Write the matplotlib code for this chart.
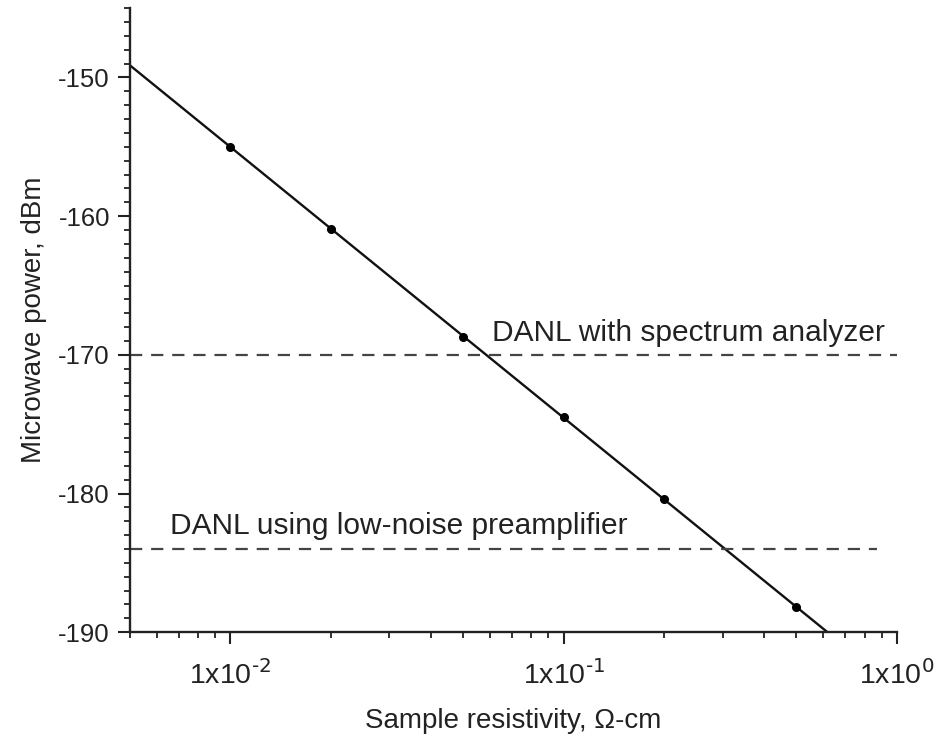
import numpy as np
import matplotlib
matplotlib.use('Agg')
import matplotlib.pyplot as plt
from matplotlib.ticker import FixedLocator, MultipleLocator, LogLocator, NullFormatter

plt.rcParams['font.family'] = ['Liberation Sans', 'DejaVu Sans']
plt.rcParams['mathtext.default'] = 'regular'
plt.rcParams['axes.unicode_minus'] = False

# measured points (resistivity, power)
resistivity = [0.01, 0.02, 0.05, 0.1, 0.2, 0.5]
power = [-155.0, -160.9, -168.7, -174.5, -180.4, -188.2]

# noise floors
danl_sa = -170.0
danl_lna = -184.0
danl_sa_xmax = 1.0
danl_lna_xmax = 0.87

xlim = (0.005, 1.0)
ylim = (-190, -145)
xticks = [1e-2, 1e-1, 1e0]
xticklabels = [r'1x10$^{\text{-2}}$', r'1x10$^{\text{-1}}$', r'1x10$^{\text{0}}$']
yticks = [-190, -180, -170, -160, -150]

ink = '#222222'

fig = plt.figure(figsize=(9.43, 7.42), dpi=100)
ax = fig.add_axes([0.138, 0.148, 0.813, 0.841])

# fitted line across the whole range
k, b = np.polyfit(np.log10(resistivity), power, 1)
xs = np.logspace(np.log10(xlim[0]), np.log10(xlim[1]), 200)
ax.plot(xs, k * np.log10(xs) + b, color='#111111', lw=1.7)
ax.plot(resistivity, power, 'o', color='black', ms=5.5)

ax.plot([xlim[0], danl_sa_xmax], [danl_sa, danl_sa], color='#444444',
        lw=1.6, dashes=(5.5, 4), clip_on=False)
ax.plot([xlim[0], danl_lna_xmax], [danl_lna, danl_lna], color='#444444',
        lw=1.6, dashes=(5.5, 4), clip_on=False)

ax.text(0.061, -169.0, 'DANL with spectrum analyzer', fontsize=21.5,
        color=ink, va='baseline', ha='left')
ax.text(0.0066, -182.9, 'DANL using low-noise preamplifier', fontsize=21.5,
        color=ink, va='baseline', ha='left')

ax.set_xscale('log')
ax.set_xlim(*xlim)
ax.set_ylim(*ylim)
ax.xaxis.set_major_locator(FixedLocator(xticks))
ax.set_xticklabels(xticklabels)
ax.xaxis.set_minor_locator(LogLocator(base=10, subs=np.arange(2, 10)))
ax.xaxis.set_minor_formatter(NullFormatter())
ax.yaxis.set_major_locator(FixedLocator(yticks))
ax.yaxis.set_minor_locator(MultipleLocator(1))

for s in ['top', 'right']:
    ax.spines[s].set_visible(False)
for s in ['left', 'bottom']:
    ax.spines[s].set_linewidth(1.7)
    ax.spines[s].set_color(ink)

ax.tick_params(which='major', direction='out', length=8.5, width=1.5, colors=ink)
ax.tick_params(which='minor', direction='out', length=4.5, width=1.3, colors=ink)
ax.tick_params(axis='x', which='major', pad=12, labelsize=20.5)
ax.tick_params(axis='y', which='major', pad=6, labelsize=18.5)

ax.set_xlabel('Sample resistivity, \u03a9-cm', fontsize=20, color=ink, labelpad=13)
ax.set_ylabel('Microwave power, dBm', fontsize=20, color=ink, labelpad=8)

fig.savefig('out.png', dpi=100)
